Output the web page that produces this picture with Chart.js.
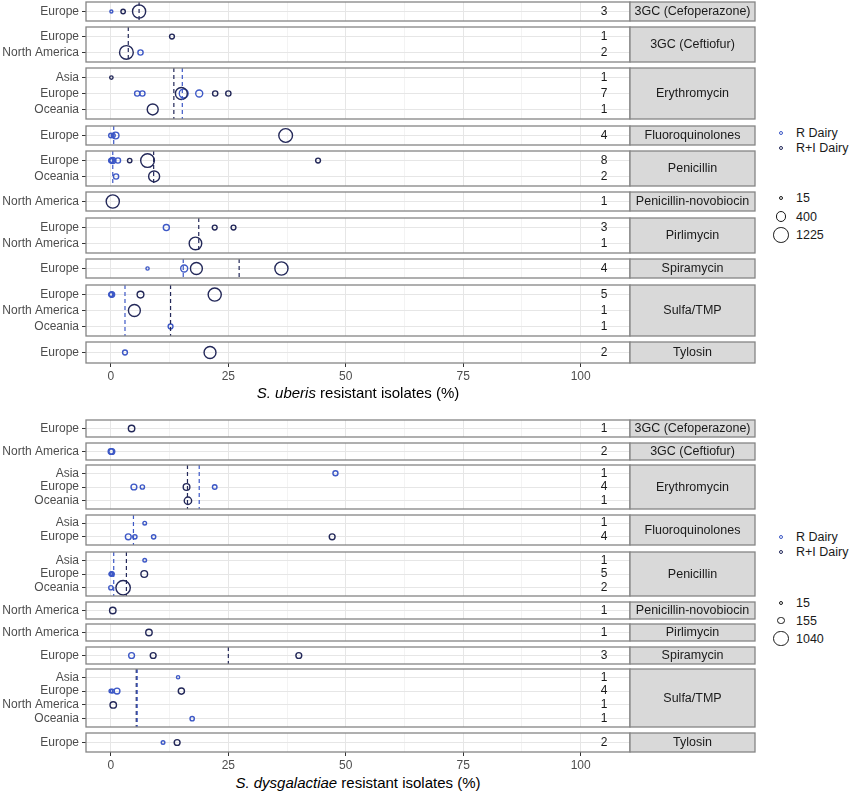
<!DOCTYPE html>
<html>
<head>
<meta charset="utf-8">
<script src="https://cdn.jsdelivr.net/npm/chart.js@4.4.0/dist/chart.umd.min.js"></script>
<style>
  body { margin: 0; background: #fff; font-family: "Liberation Sans", Arial, sans-serif; }
  #wrap { position: relative; width: 850px; height: 792px; overflow: hidden; }
  canvas { position: absolute; left: 0; }
  .xt { position: absolute; left: 86px; width: 544px; text-align: center; font-size: 15px; color: #000; line-height: 18px; }
  .lg { position: absolute; font-size: 12.5px; color: #1a1a1a; line-height: 14px; }
  .dot { position: absolute; border-radius: 50%; box-sizing: border-box; }
</style>
</head>
<body>
<div id="wrap"></div>
<script>
const drugs = ['3GC (Cefoperazone)', '3GC (Ceftiofur)', 'Erythromycin', 'Fluoroquinolones', 'Penicillin',
  'Penicillin-novobiocin', 'Pirlimycin', 'Spiramycin', 'Sulfa/TMP', 'Tylosin'];

// S. uberis
const uberisRegions = [['Europe'], ['Europe', 'North America'], ['Asia', 'Europe', 'Oceania'], ['Europe'],
  ['Europe', 'Oceania'], ['North America'], ['Europe', 'North America'], ['Europe'],
  ['Europe', 'North America', 'Oceania'], ['Europe']];
const uberisStudies = [[3], [1, 2], [1, 7, 1], [4], [8, 2], [1], [3, 1], [4], [5, 1, 1], [2]];
// [drug, region, resistant %, isolates]
const uberisR = [
  [0, 'Europe', 0.1, 15],
  [1, 'North America', 6.3, 100],
  [2, 'Europe', 5.6, 100], [2, 'Europe', 6.7, 100], [2, 'Europe', 15.5, 400], [2, 'Europe', 18.8, 220],
  [3, 'Europe', 0, 60], [3, 'Europe', 0.5, 40], [3, 'Europe', 1.0, 200],
  [4, 'Europe', 0, 60], [4, 'Europe', 0.1, 40], [4, 'Europe', 0.2, 100], [4, 'Europe', 0.4, 150], [4, 'Europe', 1.5, 100],
  [4, 'Oceania', 1.1, 100],
  [6, 'Europe', 11.8, 150],
  [7, 'Europe', 7.8, 20], [7, 'Europe', 15.6, 220],
  [8, 'Europe', 0, 40], [8, 'Europe', 0.1, 80], [8, 'Europe', 0.2, 120], [8, 'Oceania', 12.7, 80],
  [9, 'Europe', 3.0, 80]
];
const uberisRI = [
  [0, 'Europe', 2.6, 60], [0, 'Europe', 6.0, 1000],
  [1, 'Europe', 13.0, 80], [1, 'North America', 3.3, 1100],
  [2, 'Asia', 0.1, 25], [2, 'Europe', 15.0, 800], [2, 'Europe', 22.2, 100], [2, 'Europe', 25.0, 100], [2, 'Oceania', 8.9, 660],
  [3, 'Europe', 37.2, 1100],
  [4, 'Europe', 4.0, 60], [4, 'Europe', 7.8, 1100], [4, 'Europe', 44.1, 80], [4, 'Oceania', 9.2, 660],
  [5, 'North America', 0.4, 1000],
  [6, 'Europe', 22.1, 80], [6, 'Europe', 26.1, 80], [6, 'North America', 18.0, 900],
  [7, 'Europe', 18.2, 800], [7, 'Europe', 36.3, 1000],
  [8, 'Europe', 6.3, 200], [8, 'Europe', 22.1, 1000], [8, 'North America', 5.0, 800],
  [9, 'Europe', 21.1, 800]
];
// [drug, median %]
const uberisMedR = [[2, 15.2], [3, 0.6], [4, 0.4], [7, 15.4], [8, 3.0]];
const uberisMedRI = [[0, 6.0], [1, 3.7], [2, 13.4], [4, 9.1], [6, 18.7], [7, 27.3], [8, 12.7]];
const uberisSizes = [15, 400, 1225];

// S. dysgalactiae
const dysgalRegions = [['Europe'], ['North America'], ['Asia', 'Europe', 'Oceania'], ['Asia', 'Europe'],
  ['Asia', 'Europe', 'Oceania'], ['North America'], ['North America'], ['Europe'],
  ['Asia', 'Europe', 'North America', 'Oceania'], ['Europe']];
const dysgalStudies = [[1], [2], [1, 4, 1], [1, 4], [1, 5, 2], [1], [1], [3], [1, 4, 1, 1], [2]];
const dysgalR = [
  [1, 'North America', 0, 100], [1, 'North America', 0.2, 120],
  [2, 'Asia', 47.8, 80], [2, 'Europe', 4.9, 120], [2, 'Europe', 6.7, 50], [2, 'Europe', 22.1, 60],
  [3, 'Asia', 7.2, 30], [3, 'Europe', 3.7, 120], [3, 'Europe', 5.1, 50], [3, 'Europe', 9.1, 50],
  [4, 'Asia', 7.2, 30], [4, 'Europe', 0, 30], [4, 'Europe', 0.1, 40], [4, 'Europe', 0.2, 60], [4, 'Europe', 0.3, 20],
  [4, 'Oceania', 0, 50],
  [7, 'Europe', 4.4, 120],
  [8, 'Asia', 14.3, 20], [8, 'Europe', 0, 30], [8, 'Europe', 0.3, 40], [8, 'Europe', 1.3, 120], [8, 'Oceania', 17.3, 50],
  [9, 'Europe', 11.1, 30]
];
const dysgalRI = [
  [0, 'Europe', 4.4, 155],
  [2, 'Europe', 16.1, 170], [2, 'Oceania', 16.4, 220],
  [3, 'Europe', 47.1, 120],
  [4, 'Europe', 7.1, 170], [4, 'Oceania', 2.6, 1040],
  [5, 'North America', 0.4, 155],
  [6, 'North America', 8.1, 155],
  [7, 'Europe', 9.0, 120], [7, 'Europe', 40.0, 120],
  [8, 'Europe', 15.0, 140], [8, 'North America', 0.5, 155],
  [9, 'Europe', 14.1, 120]
];
const dysgalMedR = [[2, 18.8], [3, 4.8], [4, 0.6], [8, 5.6]];
const dysgalMedRI = [[2, 16.3], [4, 3.3], [7, 25.0], [8, 5.4]];
const dysgalSizes = [15, 155, 1040];

const xTicks = [0, 12.5, 25, 37.5, 50, 62.5, 75, 87.5, 100];
const colR = '#3d58c6';
const colRI = '#232859';
const font = '"Liberation Sans", Arial, sans-serif';
Chart.defaults.font.family = font;

function radiusFor(n, nMax) {
  const t = (Math.sqrt(n) - Math.sqrt(15)) / (Math.sqrt(nMax) - Math.sqrt(15));
  return 1.5 + Math.max(0, t) * 5.7;
}

const panels = [
  { regions: uberisRegions, studies: uberisStudies, R: uberisR, RI: uberisRI, medR: uberisMedR, medRI: uberisMedRI,
    sizes: uberisSizes, top: 1.5, bottom: 361, gap: 6.3, name: 'uberis', titleTop: 384,
    colY: [133, 148], sizeY: [198, 216.5, 235] },
  { regions: dysgalRegions, studies: dysgalStudies, R: dysgalR, RI: dysgalRI, medR: dysgalMedR, medRI: dysgalMedRI,
    sizes: dysgalSizes, top: 420, bottom: 750, gap: 6, name: 'dysgalactiae', titleTop: 774,
    colY: [537, 552], sizeY: [603, 620.5, 638.5] }
];

// draws counts, panel border and the grey strip
const facetDecor = {
  id: 'facetDecor',
  afterDatasetsDraw(chart, args, opts) {
    const { ctx, chartArea: a, scales: { x, y } } = chart;
    ctx.save();
    ctx.font = '12px ' + font;
    ctx.fillStyle = '#1a1a1a';
    ctx.textAlign = 'center';
    ctx.textBaseline = 'middle';
    opts.studies.forEach((n, i) => ctx.fillText(String(n), x.getPixelForValue(105), y.getPixelForValue(i)));
    ctx.strokeStyle = '#858585';
    ctx.lineWidth = 1.3;
    ctx.strokeRect(a.left, a.top, a.width, a.height);
    ctx.fillStyle = '#d9d9d9';
    ctx.fillRect(a.right, a.top, 125, a.height);
    ctx.strokeRect(a.right, a.top, 125, a.height);
    ctx.fillStyle = '#1a1a1a';
    ctx.font = '12.5px ' + font;
    ctx.fillText(opts.label, a.right + 62.5, (a.top + a.bottom) / 2 + 0.5);
    ctx.restore();
  }
};

const wrap = document.getElementById('wrap');

function makeFacet(p, f, top, h, last) {
  const regs = p.regions[f];
  const nMax = p.sizes[p.sizes.length - 1];
  const canvas = document.createElement('canvas');
  const ch = Math.round(h) + 4 + (last ? 22 : 0);
  canvas.width = 760;
  canvas.height = ch;
  canvas.style.top = (Math.round(top) - 2) + 'px';
  canvas.style.width = '760px';
  canvas.style.height = ch + 'px';
  wrap.appendChild(canvas);

  const pts = list => list.filter(d => d[0] === f)
    .map(d => ({ x: d[2], y: regs.indexOf(d[1]), r: radiusFor(d[3], nMax) }));
  const medLine = (d, color) => ({
    type: 'line',
    data: [{ x: d[1], y: -0.6 }, { x: d[1], y: regs.length - 0.4 }],
    borderColor: color, borderWidth: 1.2, borderDash: [4, 3], pointRadius: 0, fill: false
  });
  const datasets = [
    ...p.medR.filter(d => d[0] === f).map(d => medLine(d, colR)),
    ...p.medRI.filter(d => d[0] === f).map(d => medLine(d, colRI)),
    { type: 'bubble', label: 'R+I Dairy', data: pts(p.RI), borderColor: colRI, backgroundColor: 'rgba(0,0,0,0)', borderWidth: 1.4 },
    { type: 'bubble', label: 'R Dairy', data: pts(p.R), borderColor: colR, backgroundColor: 'rgba(0,0,0,0)', borderWidth: 1.4 }
  ];

  new Chart(canvas, {
    type: 'bubble',
    data: { datasets },
    plugins: [facetDecor],
    options: {
      responsive: false,
      animation: false,
      events: [],
      layout: { autoPadding: false, padding: { top: 2, bottom: last ? 0 : 2, left: 0, right: 130 } },
      plugins: {
        legend: { display: false },
        tooltip: { enabled: false },
        facetDecor: { studies: p.studies[f], label: drugs[f] }
      },
      scales: {
        x: {
          type: 'linear', min: -5.3, max: 110.5,
          afterBuildTicks: s => { s.ticks = xTicks.map(v => ({ value: v })); },
          afterFit: s => { s.height = last ? 22 : 0; s.paddingLeft = 0; s.paddingRight = 0; },
          grid: {
            color: c => (c.tick && c.tick.value % 25 === 0) ? '#e6e6e6' : '#f3f3f3',
            lineWidth: 1,
            drawTicks: last,
            tickLength: 4,
            tickColor: c => (c.tick && c.tick.value % 25 === 0) ? '#333333' : 'rgba(0,0,0,0)'
          },
          border: { display: false },
          ticks: {
            display: last, autoSkip: false, maxRotation: 0, padding: 2, color: '#4d4d4d',
            font: { size: 12 }, callback: v => (v % 25 === 0 ? v : '')
          }
        },
        y: {
          type: 'linear', reverse: true, min: -0.6, max: regs.length - 0.4,
          afterBuildTicks: s => { s.ticks = regs.map((r, i) => ({ value: i })); },
          afterFit: s => { s.width = 86; s.paddingTop = 0; s.paddingBottom = 0; },
          grid: { color: '#e6e6e6', tickLength: 4, tickColor: '#333333' },
          border: { display: false },
          ticks: { autoSkip: false, padding: 3, color: '#4d4d4d', font: { size: 12 }, callback: v => regs[v] }
        }
      }
    }
  });
}

function addDot(cx, cy, r, color) {
  const d = document.createElement('div');
  d.className = 'dot';
  const w = 2 * r + 1.3;
  d.style.cssText = `left:${cx - w / 2}px;top:${cy - w / 2}px;width:${w}px;height:${w}px;border:1.3px solid ${color};`;
  wrap.appendChild(d);
}
function addText(x, cy, html, cls) {
  const d = document.createElement('div');
  d.className = cls;
  d.innerHTML = html;
  d.style.left = x + 'px';
  d.style.top = (cy - 7) + 'px';
  wrap.appendChild(d);
}

panels.forEach(p => {
  const units = p.regions.reduce((s, r) => s + r.length + 0.2, 0);
  const unit = (p.bottom - p.top - p.gap * (drugs.length - 1)) / units;
  let y = p.top;
  drugs.forEach((drug, f) => {
    const h = (p.regions[f].length + 0.2) * unit;
    makeFacet(p, f, y, h, f === drugs.length - 1);
    y += h + p.gap;
  });

  const t = document.createElement('div');
  t.className = 'xt';
  t.style.top = p.titleTop + 'px';
  t.innerHTML = `<i>S. ${p.name}</i> resistant isolates (%)`;
  wrap.appendChild(t);

  const nMax = p.sizes[p.sizes.length - 1];
  addDot(781, p.colY[0], 1.8, colR);
  addText(796, p.colY[0], 'R Dairy', 'lg');
  addDot(781, p.colY[1], 1.8, colRI);
  addText(796, p.colY[1], 'R+I Dairy', 'lg');
  p.sizes.forEach((s, i) => {
    addDot(781, p.sizeY[i], radiusFor(s, nMax), '#1a1a1a');
    addText(796, p.sizeY[i], String(s), 'lg');
  });
});
</script>
</body>
</html>
